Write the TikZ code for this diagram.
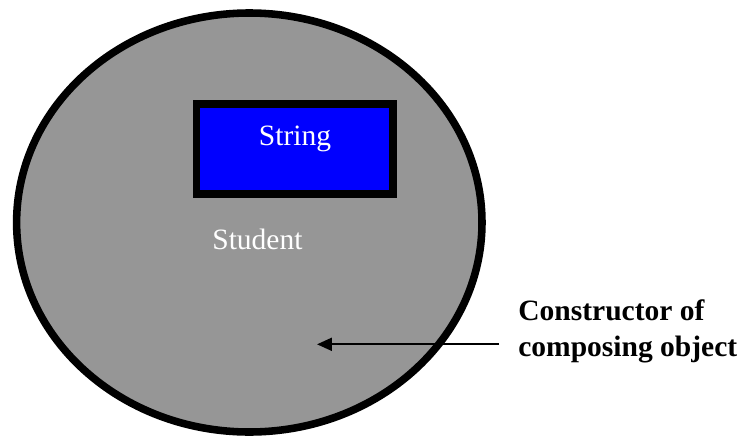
\documentclass[tikz,border=0pt]{standalone}
\usepackage{fontspec}
\setmainfont{Liberation Serif}
\usetikzlibrary{arrows.meta}
\definecolor{ObjGray}{RGB}{150,150,150}
\definecolor{ObjBlue}{RGB}{0,0,255}

\begin{document}
\begin{tikzpicture}[x=0.02cm, y=-0.02cm,
    obj/.style={draw, line width=4.3pt, fill=ObjGray},
    part/.style={rectangle, draw, line width=4.3pt, fill=ObjBlue, inner sep=0pt,
                 minimum width=3.93cm, minimum height=1.8cm},
    txt/.style={font=\fontsize{16.8}{20}\selectfont, inner sep=0pt},
    boldtxt/.style={font=\fontsize{16.8}{20}\selectfont\bfseries, inner sep=0pt, align=left},
    arr/.style={-{Triangle[length=8.5pt, width=7.4pt]}, line width=1.1pt}
  ]
  \useasboundingbox (0,0) rectangle (746,436);

  % composing object
  \coordinate (student) at (249.3,222.5);
  \draw[obj] (student) ellipse [x radius=232.7, y radius=209.5];
  \node[part] (string) at (294.7,149) {};

  \node[txt, text=white, anchor=base] (stringlbl) at (295,145) {String};
  \node[txt, text=white, anchor=base west] (studentlbl) at (212,249.3) {Student};

  \node[boldtxt, anchor=base west] (ctor) at (518,356)
        {Constructor of\\composing object};

  \coordinate (tail) at (499,344.3);
  \coordinate (tip) at (317,344.3);
  \draw[arr] (tail) -- (tip);
\end{tikzpicture}
\end{document}
